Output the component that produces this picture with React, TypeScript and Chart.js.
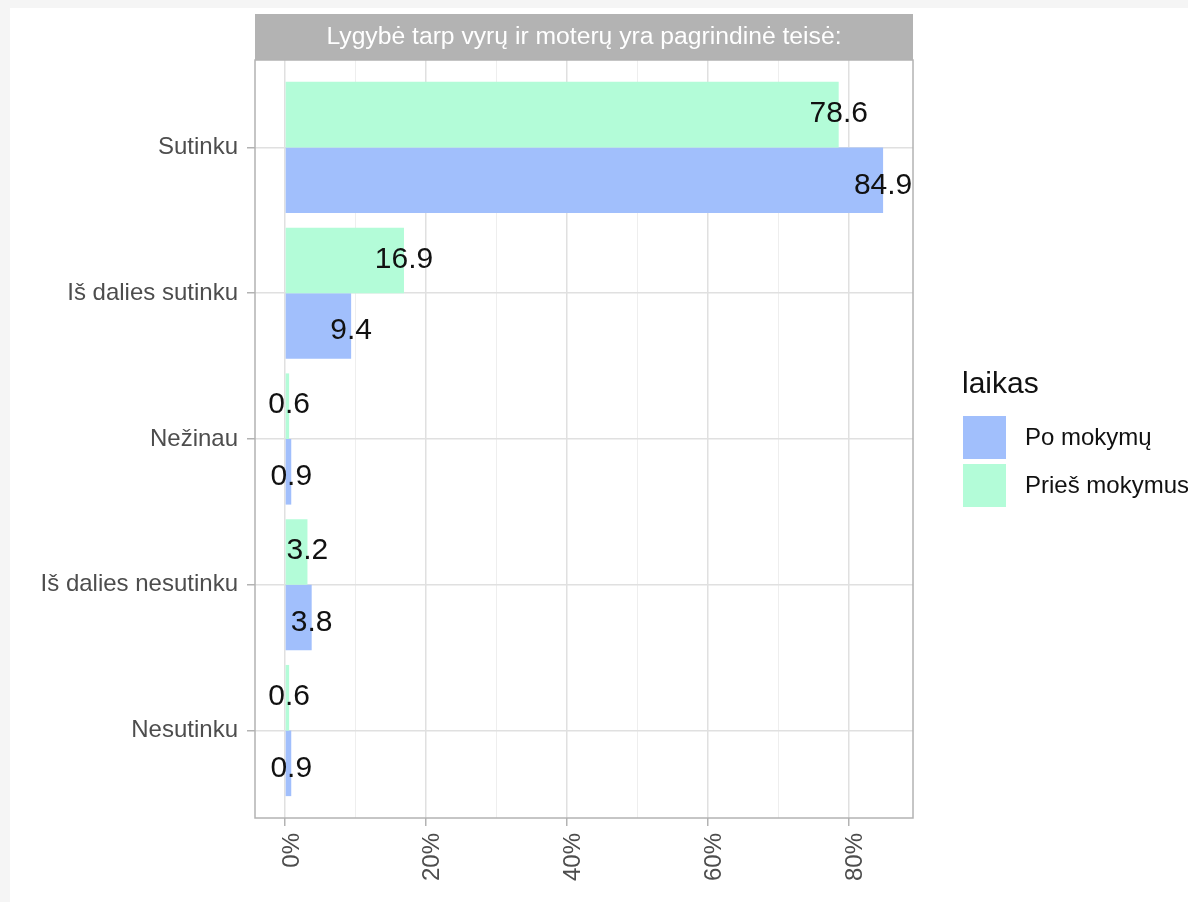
import React, { useEffect, useRef } from "react";
import { Chart, registerables } from "chart.js";

Chart.register(...registerables);

// ---- data ----
const categories = ["Sutinku", "Iš dalies sutinku", "Nežinau", "Iš dalies nesutinku", "Nesutinku"];
const priesValues = [78.6, 16.9, 0.6, 3.2, 0.6];
const poValues = [84.9, 9.4, 0.9, 3.8, 0.9];
const xTickValues = [0, 10, 20, 30, 40, 50, 60, 70, 80];
const xMajorStep = 20;
const stripTitle = "Lygybė tarp vyrų ir moterų yra pagrindinė teisė:";
const legendTitle = "laikas";
const poLabel = "Po mokymų";
const priesLabel = "Prieš mokymus";

// ---- style ----
const FONT = "'Liberation Sans', Arial, Helvetica, sans-serif";
const GREEN = "#b3fcd8";
const BLUE = "#a1bffc";
const GREY70 = "#b3b3b3";
const GRID_MAJOR = "#e0e0e0";
const GRID_MINOR = "#eeeeee";
const AXIS_TEXT = "#4d4d4d";
const LABEL_SHIFT = [-1, 5]; // vertical nudge of value labels per dataset (px)

const W = 1178;
const H = 894;

const allValues = [...priesValues, ...poValues];
const dataMax = Math.max(...allValues);
const dataMin = Math.min(0, ...allValues);
const expand = (dataMax - dataMin) * 0.05;

const isMajor = (v: number) => Math.abs(v % xMajorStep) < 1e-9;

const panelPlugin = {
  id: "panelDecor",
  beforeDraw(chart: any) {
    const { ctx, chartArea } = chart;
    const { left, right, top } = chartArea;
    ctx.save();
    ctx.fillStyle = GREY70;
    ctx.fillRect(left, top - 46, right - left, 46);
    ctx.fillStyle = "#ffffff";
    ctx.font = `24.7px ${FONT}`;
    ctx.textAlign = "center";
    ctx.textBaseline = "middle";
    ctx.fillText(stripTitle, (left + right) / 2, top - 23);
    ctx.restore();
  },
  afterDatasetsDraw(chart: any) {
    const { ctx, chartArea } = chart;
    const { left, right, top, bottom } = chartArea;
    ctx.save();
    ctx.fillStyle = "#111111";
    ctx.font = `30px ${FONT}`;
    ctx.textAlign = "center";
    ctx.textBaseline = "middle";
    chart.data.datasets.forEach((ds: any, di: number) => {
      const meta = chart.getDatasetMeta(di);
      meta.data.forEach((el: any, i: number) => {
        const v = ds.data[i].x;
        ctx.fillText(v.toFixed(1), el.x, el.y + (LABEL_SHIFT[di] || 0));
      });
    });
    ctx.strokeStyle = GREY70;
    ctx.lineWidth = 1.5;
    ctx.strokeRect(left, top, right - left, bottom - top);
    ctx.restore();
  },
  afterDraw(chart: any) {
    const { ctx } = chart;
    ctx.save();
    const lx = 952;
    ctx.fillStyle = "#111111";
    ctx.font = `30px ${FONT}`;
    ctx.textAlign = "left";
    ctx.textBaseline = "middle";
    ctx.fillText(legendTitle, lx, 377);
    const items = [
      { label: poLabel, color: BLUE },
      { label: priesLabel, color: GREEN },
    ];
    items.forEach((it, i) => {
      const y = 408 + i * 48;
      ctx.fillStyle = it.color;
      ctx.fillRect(lx + 1, y, 43, 43);
      ctx.fillStyle = "#111111";
      ctx.font = `24px ${FONT}`;
      ctx.fillText(it.label, lx + 63, y + 22);
    });
    ctx.restore();
  },
};

export default function App() {
  const canvasRef = useRef<HTMLCanvasElement | null>(null);

  useEffect(() => {
    if (!canvasRef.current) return;
    Chart.defaults.font.family = FONT;
    const chart = new Chart(canvasRef.current, {
      type: "bar",
      data: {
        datasets: [
          {
            label: priesLabel,
            data: categories.map((_, i) => ({ x: priesValues[i], y: i })),
            backgroundColor: GREEN,
            borderWidth: 0,
          },
          {
            label: poLabel,
            data: categories.map((_, i) => ({ x: poValues[i], y: i })),
            backgroundColor: BLUE,
            borderWidth: 0,
          },
        ],
      },
      options: {
        indexAxis: "y",
        responsive: false,
        animation: false,
        events: [],
        categoryPercentage: 0.9,
        barPercentage: 1.0,
        layout: { padding: { top: 52, right: 275, left: 0, bottom: 0 } },
        plugins: {
          legend: { display: false },
          tooltip: { enabled: false },
        },
        scales: {
          x: {
            type: "linear",
            min: dataMin - expand,
            max: dataMax + expand,
            offset: false,
            afterBuildTicks: (s: any) => {
              s.ticks = xTickValues.map((v) => ({ value: v }));
            },
            afterFit: (s: any) => {
              s.height = 84;
            },
            ticks: {
              autoSkip: false,
              minRotation: 90,
              maxRotation: 90,
              padding: 7,
              labelOffset: 7,
              color: AXIS_TEXT,
              font: { size: 24 },
              callback: (v: any) => (isMajor(Number(v)) ? `${v}%` : ""),
            },
            grid: {
              offset: false,
              color: (c: any) => (c.tick && isMajor(c.tick.value) ? GRID_MAJOR : GRID_MINOR),
              lineWidth: (c: any) => (c.tick && isMajor(c.tick.value) ? 1.5 : 1),
              tickColor: (c: any) => (c.tick && isMajor(c.tick.value) ? GREY70 : "rgba(0,0,0,0)"),
              tickLength: 8,
              tickWidth: 1.5,
            },
            border: { display: false },
          },
          y: {
            type: "linear",
            reverse: true,
            offset: false,
            min: -0.6,
            max: categories.length - 1 + 0.6,
            afterBuildTicks: (s: any) => {
              s.ticks = categories.map((_, i) => ({ value: i }));
            },
            afterFit: (s: any) => {
              s.width = 245;
            },
            ticks: {
              autoSkip: false,
              padding: 9,
              color: AXIS_TEXT,
              font: { size: 24 },
              callback: (v: any) => categories[Number(v)] ?? "",
            },
            grid: {
              offset: false,
              color: GRID_MAJOR,
              lineWidth: 1.5,
              tickColor: GREY70,
              tickLength: 8,
              tickWidth: 1.5,
            },
            border: { display: false },
          },
        },
      },
      plugins: [panelPlugin],
    } as any);
    return () => chart.destroy();
  }, []);

  return (
    <div style={{ position: "fixed", inset: 0, background: "#f5f5f5" }}>
      <div style={{ position: "absolute", left: 10, top: 8, width: W, height: H, background: "#ffffff" }}>
        <canvas ref={canvasRef} width={W} height={H} style={{ display: "block" }} />
      </div>
    </div>
  );
}
